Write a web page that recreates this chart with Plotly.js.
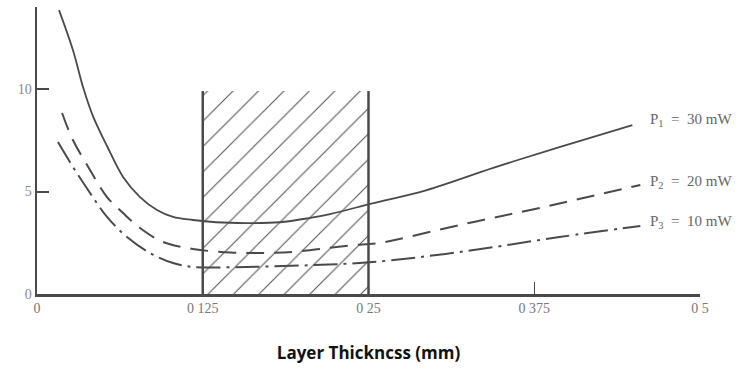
<!DOCTYPE html>
<html>
<head>
<meta charset="utf-8">
<script src="https://cdn.plot.ly/plotly-3.0.1.min.js"></script>
<style>html,body{margin:0;padding:0;background:#fff;}#chart{width:753px;height:369px;}</style>
</head>
<body>
<div id="chart"></div>
<script>
// Data
const p1X = [0.0166, 0.0271, 0.0347, 0.0422, 0.0528, 0.0649, 0.0777, 0.0905, 0.1026, 0.1176, 0.135, 0.158, 0.183, 0.205, 0.221, 0.253, 0.294, 0.344, 0.394, 0.449];
const p1Y = [13.85, 11.9, 10.1, 8.68, 7.22, 5.71, 4.73, 4.10, 3.76, 3.61, 3.5, 3.46, 3.5, 3.7, 3.9, 4.42, 5.07, 6.15, 7.17, 8.24];
const p2X = [0.0189, 0.0271, 0.0400, 0.0528, 0.0649, 0.0777, 0.0950, 0.1176, 0.146, 0.170, 0.193, 0.216, 0.238, 0.259, 0.319, 0.382, 0.455];
const p2Y = [8.83, 7.51, 6.05, 4.73, 3.95, 3.22, 2.54, 2.20, 2.02, 2.0, 2.05, 2.22, 2.38, 2.5, 3.37, 4.24, 5.32];
const p3X = [0.0158, 0.0271, 0.0400, 0.0528, 0.0679, 0.0852, 0.1026, 0.1176, 0.158, 0.208, 0.253, 0.319, 0.394, 0.455];
const p3Y = [7.41, 6.20, 4.93, 3.76, 2.78, 2.0, 1.51, 1.32, 1.32, 1.41, 1.56, 2.05, 2.78, 3.32];
const seriesLabels = ["P<sub>1</sub> \u00a0=\u00a0 30 mW", "P<sub>2</sub> \u00a0=\u00a0 20 mW", "P<sub>3</sub> \u00a0=\u00a0 10 mW"];
const labelY = [8.5, 5.45, 3.5];
const labelX = 0.461;
const bandX = [0.125, 0.25];
const bandTop = 9.9;
const tickVals = [0, 0.125, 0.25, 0.375, 0.5];
const tickText = ["0", "0 125", "0 25", "0 375", "0 5"];
const yTickVals = [0, 5, 10];
const xTitle = "Layer Thickncss (mm)";

const ink = '#4a4a4a';
const traces = [
  {
    x: [bandX[0], bandX[0], bandX[1], bandX[1], bandX[0]],
    y: [0, bandTop, bandTop, 0, 0],
    mode: 'lines', fill: 'toself',
    fillcolor: 'rgba(255,255,255,0)',
    fillpattern: {shape: '/', fgcolor: '#555', bgcolor: 'rgba(255,255,255,0)', size: 18, solidity: 0.06},
    line: {width: 0}, hoverinfo: 'skip', showlegend: false
  },
  {x: [bandX[0], bandX[0]], y: [0, bandTop], mode: 'lines', line: {color: ink, width: 2.5}, showlegend: false},
  {x: [bandX[1], bandX[1]], y: [0, bandTop], mode: 'lines', line: {color: ink, width: 2.5}, showlegend: false},
  {x: p1X, y: p1Y, mode: 'lines', line: {color: ink, width: 1.8, shape: 'spline', smoothing: 1}, showlegend: false},
  {x: p2X, y: p2Y, mode: 'lines', line: {color: ink, width: 2, shape: 'spline', smoothing: 1, dash: '18px,10px'}, showlegend: false},
  {x: p3X, y: p3Y, mode: 'lines', line: {color: ink, width: 2, shape: 'spline', smoothing: 1, dash: '24px,6px,3px,6px'}, showlegend: false}
];

const annotations = seriesLabels.map((t, i) => ({
  x: labelX, y: labelY[i], xref: 'x', yref: 'y', text: t, showarrow: false,
  xanchor: 'left', yanchor: 'middle',
  font: {family: 'Liberation Serif, serif', size: 15, color: '#666'}
}));

const layout = {
  width: 753, height: 369,
  margin: {l: 37, r: 53, t: 7, b: 75},
  paper_bgcolor: '#fff', plot_bgcolor: '#fff',
  showlegend: false,
  xaxis: {
    range: [0, 0.5], tickvals: tickVals, ticktext: tickText,
    showgrid: false, zeroline: false, showline: true, linecolor: ink, linewidth: 2.5,
    ticks: 'inside', ticklen: 12, tickwidth: 1.5, tickcolor: ink,
    tickfont: {family: 'Liberation Serif, serif', size: 14, color: '#777'},
    title: {text: '<b>' + xTitle + '</b>', font: {family: 'Open Sans, sans-serif', size: 17, color: '#111'}, standoff: 32}
  },
  yaxis: {
    range: [0, 14], tickvals: yTickVals,
    showgrid: false, zeroline: false, showline: true, linecolor: ink, linewidth: 2.5,
    ticks: 'inside', ticklen: 12, tickwidth: 2, tickcolor: ink,
    tickfont: {family: 'Liberation Serif, serif', size: 14, color: '#888'}
  },
  annotations: annotations
};

Plotly.newPlot('chart', traces, layout, {displayModeBar: false, staticPlot: true});
</script>
</body>
</html>
